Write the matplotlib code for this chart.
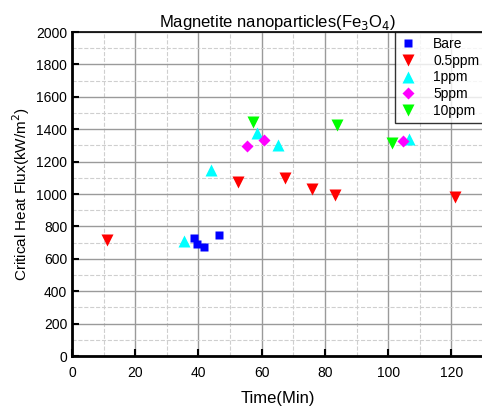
import matplotlib
matplotlib.use("Agg")
import matplotlib.pyplot as plt
from matplotlib.ticker import MultipleLocator

plt.rcParams['font.family'] = ['Liberation Sans', 'DejaVu Sans']

bare_x = [38.5, 39.5, 41.8, 46.5]
bare_y = [728, 690, 672, 745]
p05_x = [11.0, 52.6, 67.4, 76.0, 83.2, 121.1]
p05_y = [716, 1076, 1097, 1029, 996, 983]
p1_x = [35.4, 44.0, 58.5, 65.0, 106.7]
p1_y = [712, 1148, 1378, 1305, 1337]
p5_x = [55.2, 60.7, 104.6]
p5_y = [1298, 1333, 1327]
p10_x = [57.4, 83.7, 101.1]
p10_y = [1442, 1424, 1312]

fig = plt.figure(figsize=(4.82, 4.07), dpi=100)
ax = fig.add_axes([72/482, 1-356/407, 411/482, 324/407])

ax.set_xlim(0, 130)
ax.set_ylim(0, 2000)
ax.xaxis.set_major_locator(MultipleLocator(20))
ax.xaxis.set_minor_locator(MultipleLocator(10))
ax.yaxis.set_major_locator(MultipleLocator(200))
ax.yaxis.set_minor_locator(MultipleLocator(100))
ax.grid(which='major', color='#9a9a9a', linestyle='-', linewidth=1.0)
ax.grid(which='minor', color='#cfcfcf', linestyle='--', linewidth=0.8)
ax.set_axisbelow(True)

ax.plot(bare_x, bare_y, 's', color='#0000ff', ms=6, mec='none', label='Bare')
ax.plot(p05_x, p05_y, 'v', color='#ff0000', ms=8, mec='none', label='0.5ppm')
ax.plot(p1_x, p1_y, '^', color='#00ffff', ms=8, mec='none', label='1ppm')
ax.plot(p5_x, p5_y, 'D', color='#ff00ff', ms=6.5, mec='none', label='5ppm')
ax.plot(p10_x, p10_y, 'v', color='#00ff00', ms=8, mec='none', label='10ppm')

for s in ['left', 'bottom']:
    ax.spines[s].set_linewidth(2)
ax.spines['top'].set_linewidth(1.2)
ax.spines['right'].set_visible(False)
ax.tick_params(which='major', direction='in', length=5, width=1.5, labelsize=10,
               top=False, right=False)
ax.tick_params(axis='x', which='major', pad=7)
ax.tick_params(which='minor', length=0)

ax.set_title('Magnetite nanoparticles(Fe$_3$O$_4$)', fontsize=12, pad=3)
ax.set_xlabel('Time(Min)', fontsize=12, labelpad=8)
ax.set_ylabel('Critical Heat Flux(kW/m$^2$)', fontsize=11, labelpad=3)

leg = ax.legend(loc='upper left', bbox_to_anchor=((395-72)/411, 1.0), borderaxespad=0,
                fontsize=10, frameon=True, fancybox=False, edgecolor='black',
                handlelength=1.2, handletextpad=1.2, labelspacing=0.2, borderpad=0.35)
leg.get_frame().set_linewidth(1.0)

fig.savefig('out.png', dpi=100)
